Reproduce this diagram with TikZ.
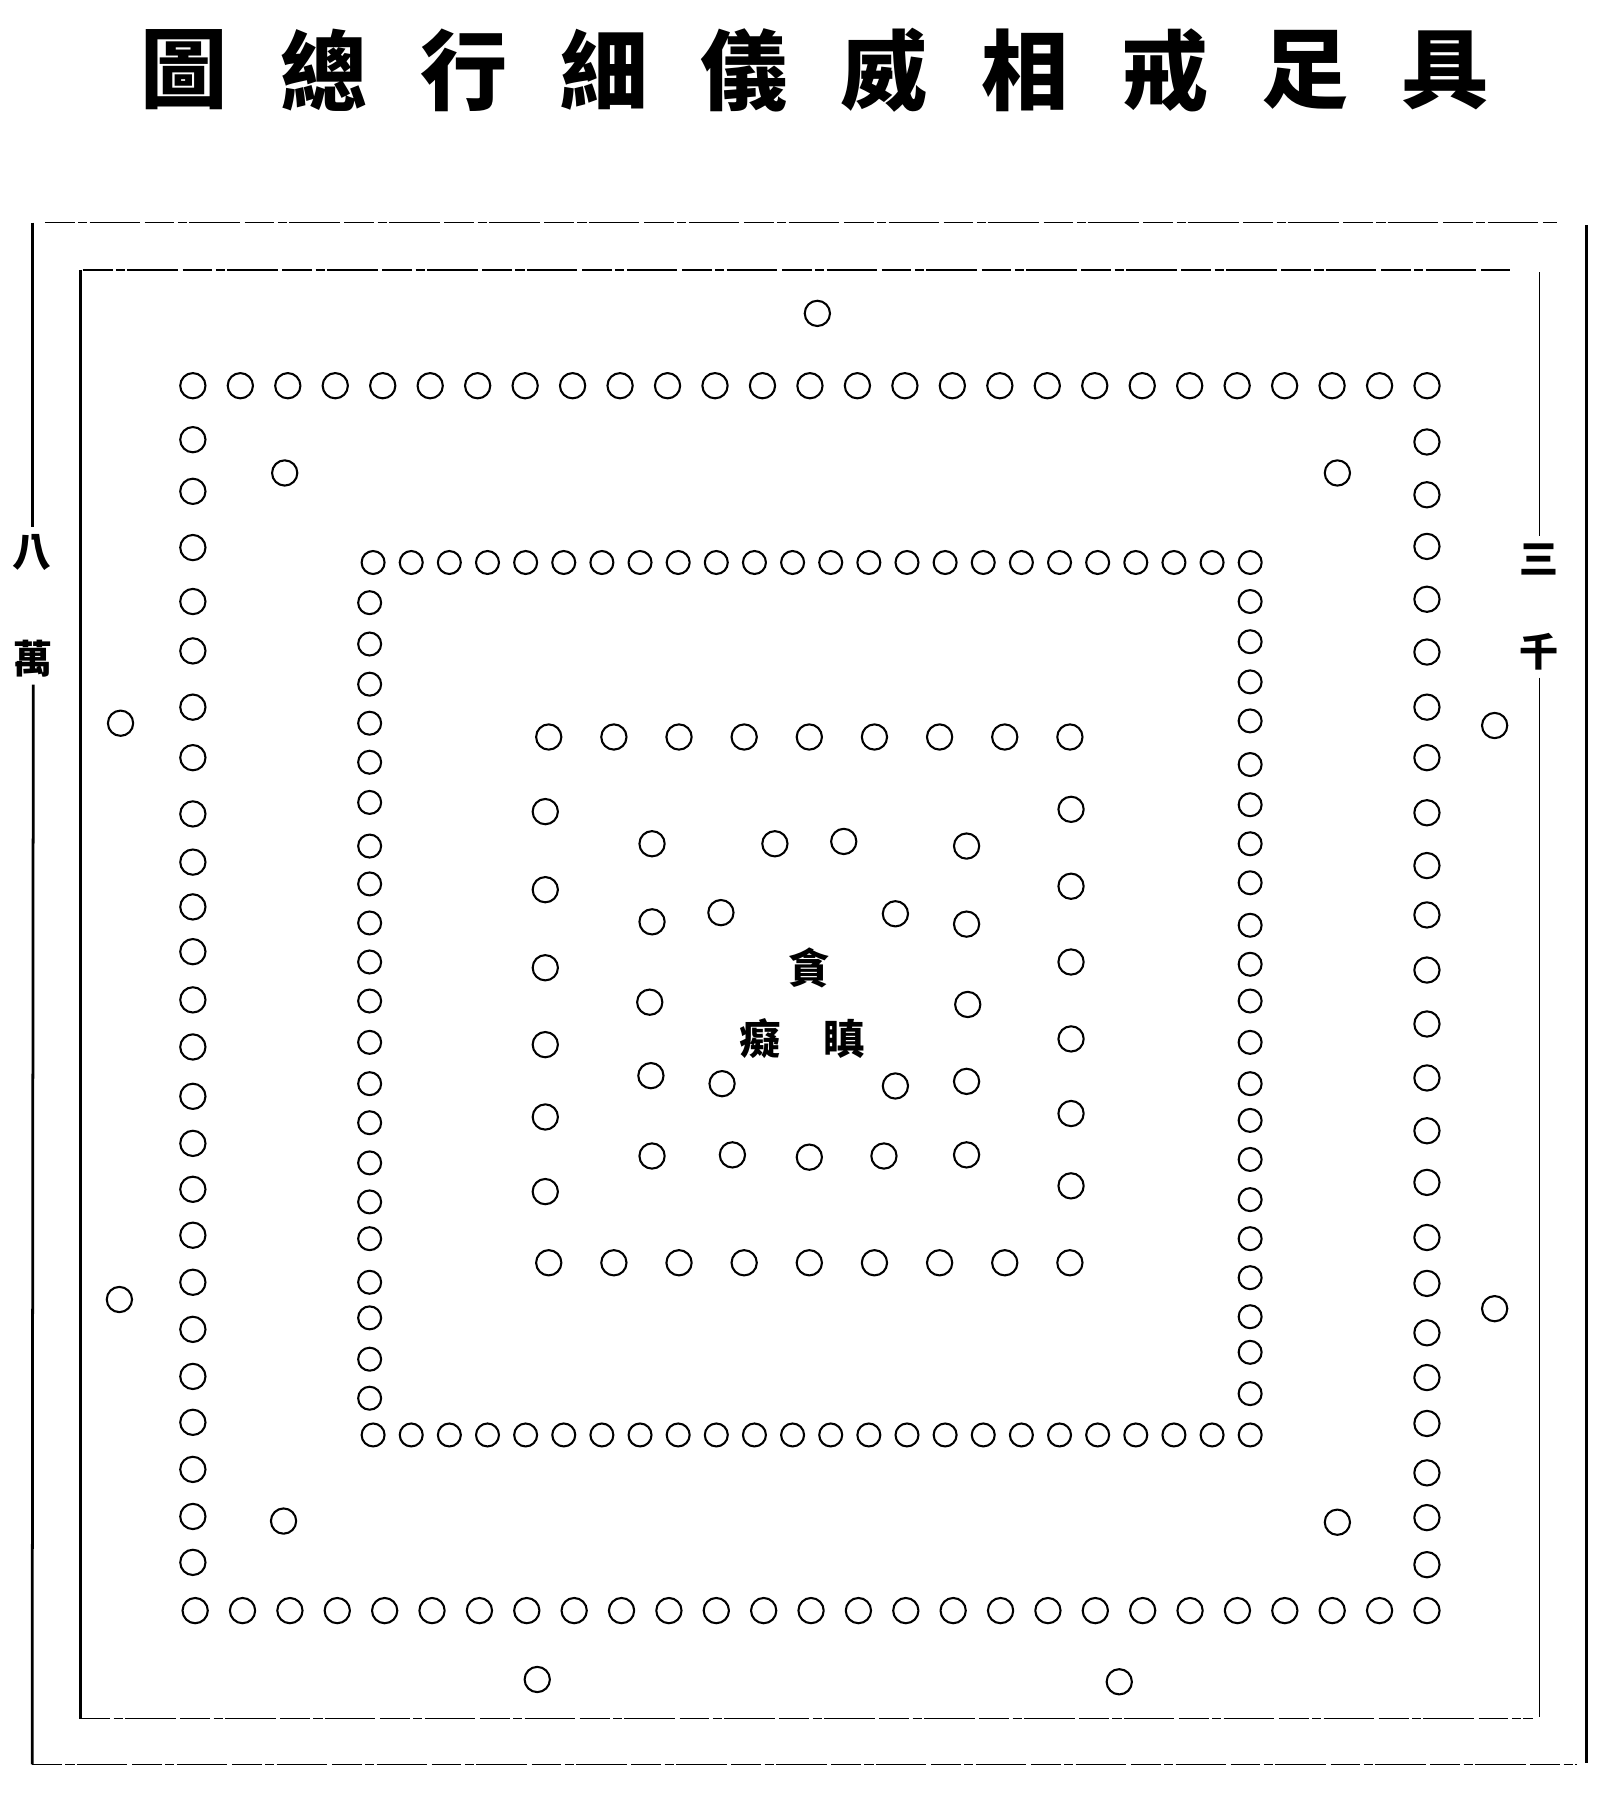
\documentclass[tikz,border=0pt]{standalone}
\usepackage{fontspec}
\newfontfamily\cjk{Noto Sans CJK TC}

\tikzset{
  bead/.style={line width=1.8pt},
  frameside/.style={line width=2.4pt},
  frameedge/.style={line width=1.3pt, dash pattern=on 26pt off 3pt on 8pt off 2pt on 44pt off 4pt},
  titlechar/.style={font=\cjk\bfseries\fontsize{76}{76}\selectfont, inner sep=0pt},
  sidechar/.style={font=\cjk\bfseries\fontsize{34}{34}\selectfont, inner sep=6pt},
  centrechar/.style={font=\cjk\bfseries\fontsize{36}{36}\selectfont, inner sep=0pt},
}

\begin{document}
\begin{tikzpicture}[x=1pt, y=-1pt]
    \useasboundingbox (0,0) rectangle (1404,1568);

    % Title
    \foreach \ch [count=\i from 0] in {圖,總,行,細,儀,威,相,戒,足,具}
        \node[titlechar] (title\i) at (160+122.1*\i, 61) {\ch};

    % Frame corners
    \coordinate (otl) at (28,194);
    \coordinate (obl) at (28,1537);
    \coordinate (otr) at (1382,196);
    \coordinate (obr) at (1382,1536);
    \coordinate (itl) at (70,235);
    \coordinate (ibl) at (70,1497);
    \coordinate (itr) at (1341,237);
    \coordinate (ibr) at (1341,1496);

    % Side texts
    \node[sidechar] (ba) at (28,481) {八};
    \node[sidechar] (wan) at (29,574) {萬};
    \node[sidechar] (san) at (1341,487) {三};
    \node[sidechar] (qian) at (1341,568) {千};

    % Outer frame
    \draw[frameside] (otl) -- (ba.north);
    \draw[frameside] (wan.south) -- (obl);
    \draw[frameside, line width=1.8pt] (otr) -- (obr);
    \draw[frameedge] (39,194) -- (1356,194);
    \draw[frameedge] (obl) -- (1374,1537);

    % Inner frame
    \draw[frameside] (itl) -- (ibl);
    \draw[frameside, line width=1.6pt] (itr) -- (san.north);
    \draw[frameside, line width=1.6pt] (qian.south) -- (ibr);
    \draw[frameedge] (72,235) -- (1315,235);
    \draw[frameedge] (ibl) -- (1335,1497);

    % First ring
    \foreach \i in {0,...,26} {
        \draw[bead] (168+41.35*\i, 336) circle[radius=11pt];
        \draw[bead] (170+41.27*\i, 1403) circle[radius=11pt];
    }
    \foreach \y in {383,428,477,524,567,616,660,709,751,790,829,871,912,955,996,1036,1076,1117,1158,1199,1239,1280,1321,1361}
        \draw[bead] (168,\y) circle[radius=11pt];
    \foreach \y in {385,431,476,522,568,616,660,708,754,797,845,892,939,985,1030,1078,1118,1161,1200,1240,1283,1322,1363}
        \draw[bead] (1243,\y) circle[radius=11pt];

    % Second ring
    \foreach \i in {0,...,23} {
        \draw[bead] (325+33.22*\i, 490) circle[radius=10pt];
        \draw[bead] (325+33.22*\i, 1250) circle[radius=10pt];
    }
    \foreach \y in {525,561,596,630,664,699,737,770,804,838,872,908,944,978,1013,1047,1079,1117,1148,1184,1218}
        \draw[bead] (322,\y) circle[radius=10pt];
    \foreach \y in {524,559,594,628,666,701,735,769,806,840,872,908,944,976,1010,1045,1079,1113,1147,1178,1214}
        \draw[bead] (1089,\y) circle[radius=10pt];

    % Third ring
    \foreach \i in {0,...,8} {
        \draw[bead] (478+56.75*\i, 642) circle[radius=11pt];
        \draw[bead] (478+56.75*\i, 1100) circle[radius=11pt];
    }
    \foreach \y in {707,775,843,910,973,1038}
        \draw[bead] (475,\y) circle[radius=11pt];
    \foreach \y in {705,772,838,905,970,1033}
        \draw[bead] (933,\y) circle[radius=11pt];

    % Innermost ring
    \foreach \x/\y in {568/735,675/735,735/733,842/737,
                       568/803,628/795,780/796,842/805,
                       566/873,843/875,
                       567/937,629/944,780/946,842/942,
                       568/1007,638/1006,705/1008,770/1007,842/1006}
        \draw[bead] (\x,\y) circle[radius=11pt];

    % Single beads between the rings
    \foreach \x/\y in {712/273,248/412,1165/412,105/630,1302/632,
                       104/1132,1302/1140,247/1325,1165/1326,468/1463,975/1465}
        \draw[bead] (\x,\y) circle[radius=11pt];

    % Centre
    \node[centrechar] (tan) at (705,843) {貪};
    \node[centrechar] (chi) at (662,905) {癡};
    \node[centrechar] (chen) at (735,905) {瞋};
\end{tikzpicture}
\end{document}
